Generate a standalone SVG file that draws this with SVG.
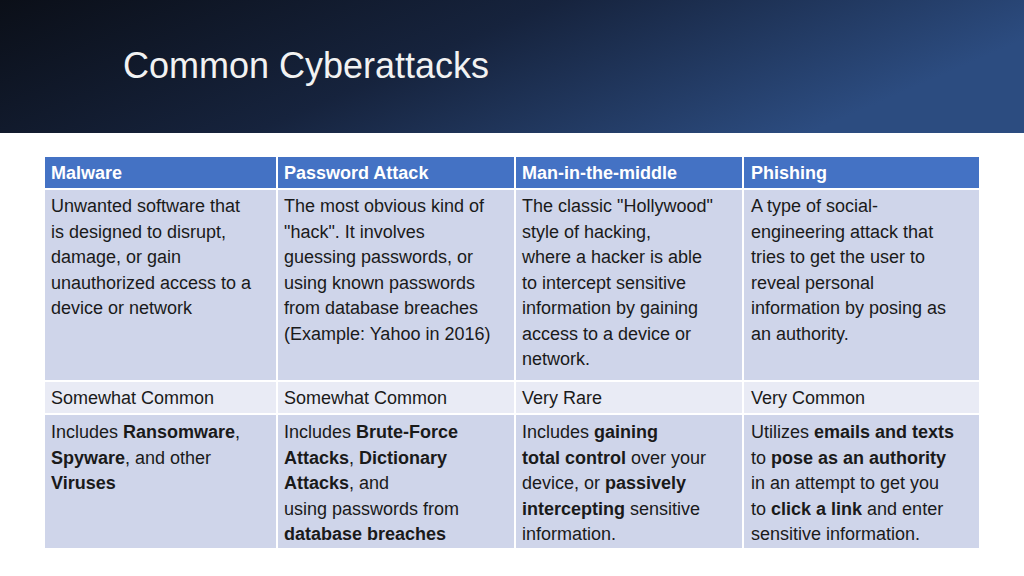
<svg xmlns="http://www.w3.org/2000/svg" width="1024" height="576" viewBox="0 0 1024 576">
<defs>
<linearGradient id="bg" x1="0" y1="0" x2="1" y2="0.3">
<stop offset="0" stop-color="#0b0f18"/><stop offset="0.5" stop-color="#16233d"/><stop offset="1" stop-color="#2c4c80"/>
</linearGradient>
</defs>
<style>
text{font-family:"Liberation Sans",Arial,sans-serif;font-size:18px;fill:#1a1a1a}
.h{fill:#fff;font-weight:bold}
.b{font-weight:bold}
.hd{fill:#4472C4}.r1{fill:#CFD5EA}.r2{fill:#E9EBF5}
rect.c{stroke:#fff;stroke-width:2}
</style>
<rect width="1024" height="576" fill="#fff"/>
<rect width="1024" height="133" fill="url(#bg)"/>
<text x="123" y="78" style="font-size:36px;fill:#f2f2f2">Common Cyberattacks</text>
<g id="table">
<rect class="c hd" x="44" y="156" width="233" height="33"/>
<rect class="c hd" x="277" y="156" width="238" height="33"/>
<rect class="c hd" x="515" y="156" width="228" height="33"/>
<rect class="c hd" x="743" y="156" width="237" height="33"/>
<rect class="c r1" x="44" y="189" width="233" height="192"/>
<rect class="c r1" x="277" y="189" width="238" height="192"/>
<rect class="c r1" x="515" y="189" width="228" height="192"/>
<rect class="c r1" x="743" y="189" width="237" height="192"/>
<rect class="c r2" x="44" y="381" width="233" height="33"/>
<rect class="c r2" x="277" y="381" width="238" height="33"/>
<rect class="c r2" x="515" y="381" width="228" height="33"/>
<rect class="c r2" x="743" y="381" width="237" height="33"/>
<rect class="c r1" x="44" y="414" width="233" height="135"/>
<rect class="c r1" x="277" y="414" width="238" height="135"/>
<rect class="c r1" x="515" y="414" width="228" height="135"/>
<rect class="c r1" x="743" y="414" width="237" height="135"/>
</g>
<g id="headers">
<text class="h" x="51" y="179">Malware</text>
<text class="h" x="284" y="179">Password Attack</text>
<text class="h" x="522" y="179">Man-in-the-middle</text>
<text class="h" x="751" y="179">Phishing</text>
</g>
<g id="descriptions">
<text x="51" y="212"><tspan x="51">Unwanted software that</tspan><tspan x="51" dy="25.5">is designed to disrupt,</tspan><tspan x="51" dy="25.5">damage, or gain</tspan><tspan x="51" dy="25.5">unauthorized access to a</tspan><tspan x="51" dy="25.5">device or network</tspan></text>
<text x="284" y="212"><tspan x="284">The most obvious kind of</tspan><tspan x="284" dy="25.5">"hack". It involves</tspan><tspan x="284" dy="25.5">guessing passwords, or</tspan><tspan x="284" dy="25.5">using known passwords</tspan><tspan x="284" dy="25.5">from database breaches</tspan><tspan x="284" dy="25.5">(Example: Yahoo in 2016)</tspan></text>
<text x="522" y="212"><tspan x="522">The classic "Hollywood"</tspan><tspan x="522" dy="25.5">style of hacking,</tspan><tspan x="522" dy="25.5">where a hacker is able</tspan><tspan x="522" dy="25.5">to intercept sensitive</tspan><tspan x="522" dy="25.5">information by gaining</tspan><tspan x="522" dy="25.5">access to a device or</tspan><tspan x="522" dy="25.5">network.</tspan></text>
<text x="751" y="212"><tspan x="751">A type of social-</tspan><tspan x="751" dy="25.5">engineering attack that</tspan><tspan x="751" dy="25.5">tries to get the user to</tspan><tspan x="751" dy="25.5">reveal personal</tspan><tspan x="751" dy="25.5">information by posing as</tspan><tspan x="751" dy="25.5">an authority.</tspan></text>
</g>
<g id="frequency">
<text x="51" y="404">Somewhat Common</text>
<text x="284" y="404">Somewhat Common</text>
<text x="522" y="404">Very Rare</text>
<text x="751" y="404">Very Common</text>
</g>
<g id="details">
<text x="51" y="438"><tspan x="51">Includes <tspan class="b">Ransomware</tspan>,</tspan><tspan x="51" dy="25.5"><tspan class="b">Spyware</tspan>, and other</tspan><tspan x="51" dy="25.5" class="b">Viruses</tspan></text>
<text x="284" y="438"><tspan x="284">Includes <tspan class="b">Brute-Force</tspan></tspan><tspan x="284" dy="25.5"><tspan class="b">Attacks</tspan>, <tspan class="b">Dictionary</tspan></tspan><tspan x="284" dy="25.5"><tspan class="b">Attacks</tspan>, and</tspan><tspan x="284" dy="25.5">using passwords from</tspan><tspan x="284" dy="25.5" class="b">database breaches</tspan></text>
<text x="522" y="438"><tspan x="522">Includes <tspan class="b">gaining</tspan></tspan><tspan x="522" dy="25.5"><tspan class="b">total control</tspan> over your</tspan><tspan x="522" dy="25.5">device, or <tspan class="b">passively</tspan></tspan><tspan x="522" dy="25.5"><tspan class="b">intercepting</tspan> sensitive</tspan><tspan x="522" dy="25.5">information.</tspan></text>
<text x="751" y="438"><tspan x="751">Utilizes <tspan class="b">emails and texts</tspan></tspan><tspan x="751" dy="25.5">to <tspan class="b">pose as an authority</tspan></tspan><tspan x="751" dy="25.5">in an attempt to get you</tspan><tspan x="751" dy="25.5">to <tspan class="b">click a link</tspan> and enter</tspan><tspan x="751" dy="25.5">sensitive information.</tspan></text>
</g>
</svg>
